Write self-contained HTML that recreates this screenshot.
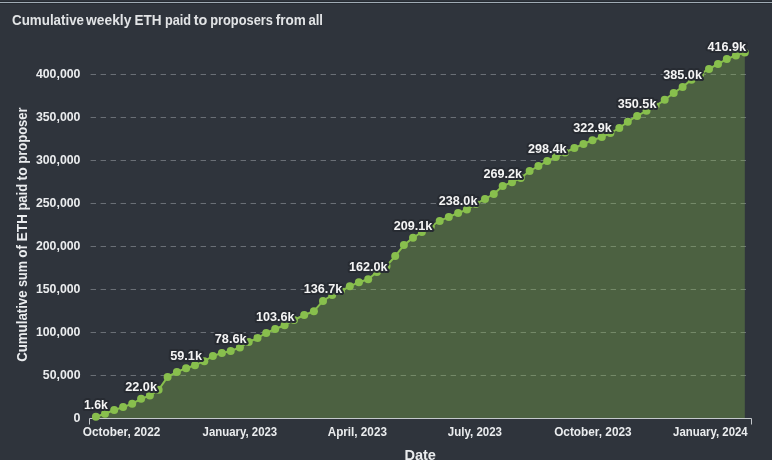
<!DOCTYPE html>
<html><head><meta charset="utf-8"><style>
html,body{margin:0;padding:0;}
body{width:772px;height:460px;overflow:hidden;background:#2f343c;position:relative;font-family:"Liberation Sans",sans-serif;}
.topl{position:absolute;left:0;top:1px;width:772px;height:3px;background:#262b32;}
.topl2{position:absolute;left:0;top:2px;width:772px;height:1px;background:#a0abb4;}
svg{position:absolute;left:0;top:0;will-change:transform;}
text{font-family:"Liberation Sans",sans-serif;font-weight:700;}
</style></head><body>
<div class="topl"></div><div class="topl2"></div>
<svg width="772" height="460" viewBox="0 0 772 460">
<g font-size="14" fill="#e2e4e6"><text x="12.10" y="25.1" textLength="71.90" lengthAdjust="spacingAndGlyphs">Cumulative</text><text x="86.10" y="25.1" textLength="45.30" lengthAdjust="spacingAndGlyphs">weekly</text><text x="134.50" y="25.1" textLength="27.10" lengthAdjust="spacingAndGlyphs">ETH</text><text x="164.90" y="25.1" textLength="26.10" lengthAdjust="spacingAndGlyphs">paid</text><text x="193.80" y="25.1" textLength="13.60" lengthAdjust="spacingAndGlyphs">to</text><text x="210.20" y="25.1" textLength="62.70" lengthAdjust="spacingAndGlyphs">proposers</text><text x="275.80" y="25.1" textLength="30.10" lengthAdjust="spacingAndGlyphs">from</text><text x="308.40" y="25.1" textLength="14.60" lengthAdjust="spacingAndGlyphs">all</text></g>
<g stroke="#6a6f76" stroke-width="1" stroke-dasharray="5.4 4.6" fill="none"><line x1="90.6" y1="375.5" x2="746" y2="375.5"/><line x1="90.6" y1="332.5" x2="746" y2="332.5"/><line x1="90.6" y1="289.5" x2="746" y2="289.5"/><line x1="90.6" y1="246.5" x2="746" y2="246.5"/><line x1="90.6" y1="203.5" x2="746" y2="203.5"/><line x1="90.6" y1="160.5" x2="746" y2="160.5"/><line x1="90.6" y1="117.5" x2="746" y2="117.5"/><line x1="90.6" y1="74.5" x2="746" y2="74.5"/></g>
<path d="M95.9,418.5 L95.9,416.7 L105.0,413.7 L114.2,410.0 L123.1,407.1 L132.2,403.7 L141.1,398.8 L149.9,395.6 L158.6,389.8 L167.6,376.9 L176.9,372.0 L186.1,368.2 L195.0,365.2 L204.3,361.2 L212.9,356.0 L221.9,352.9 L230.7,351.0 L239.9,347.4 L248.7,342.0 L257.5,337.9 L266.2,333.0 L275.2,329.0 L284.6,325.2 L294.0,320.0 L304.2,315.0 L313.9,311.2 L323.0,300.9 L332.2,295.0 L341.0,291.0 L349.8,286.3 L358.9,282.2 L368.2,279.2 L376.9,272.0 L386.5,266.0 L395.2,256.1 L403.9,245.1 L413.0,237.8 L421.9,232.0 L430.8,226.5 L439.7,220.9 L448.8,216.9 L458.1,213.0 L466.9,209.6 L475.8,204.0 L485.0,198.9 L493.8,194.0 L502.7,186.0 L512.0,182.2 L520.8,178.0 L529.6,171.0 L538.4,166.1 L547.2,161.0 L555.8,157.1 L565.0,152.5 L574.4,148.0 L583.5,144.0 L592.5,140.2 L601.8,137.0 L610.4,133.0 L619.3,128.0 L627.8,121.7 L637.1,115.9 L646.5,110.8 L655.6,106.0 L664.7,99.8 L673.7,93.0 L682.6,86.9 L691.5,79.8 L700.3,74.0 L709.0,68.9 L718.0,64.0 L726.8,59.0 L735.9,55.4 L744.8,52.5 L744.8,418.5 Z" fill="#88bf4d" fill-opacity="0.33" stroke="none"/>
<path d="M89.5,424.5 L89.5,418.5 L751.5,418.5 L751.5,424.5" stroke="#c4c8cc" stroke-width="1" fill="none"/>
<polyline points="95.9,416.7 105.0,413.7 114.2,410.0 123.1,407.1 132.2,403.7 141.1,398.8 149.9,395.6 158.6,389.8 167.6,376.9 176.9,372.0 186.1,368.2 195.0,365.2 204.3,361.2 212.9,356.0 221.9,352.9 230.7,351.0 239.9,347.4 248.7,342.0 257.5,337.9 266.2,333.0 275.2,329.0 284.6,325.2 294.0,320.0 304.2,315.0 313.9,311.2 323.0,300.9 332.2,295.0 341.0,291.0 349.8,286.3 358.9,282.2 368.2,279.2 376.9,272.0 386.5,266.0 395.2,256.1 403.9,245.1 413.0,237.8 421.9,232.0 430.8,226.5 439.7,220.9 448.8,216.9 458.1,213.0 466.9,209.6 475.8,204.0 485.0,198.9 493.8,194.0 502.7,186.0 512.0,182.2 520.8,178.0 529.6,171.0 538.4,166.1 547.2,161.0 555.8,157.1 565.0,152.5 574.4,148.0 583.5,144.0 592.5,140.2 601.8,137.0 610.4,133.0 619.3,128.0 627.8,121.7 637.1,115.9 646.5,110.8 655.6,106.0 664.7,99.8 673.7,93.0 682.6,86.9 691.5,79.8 700.3,74.0 709.0,68.9 718.0,64.0 726.8,59.0 735.9,55.4 744.8,52.5" fill="none" stroke="#88bf4d" stroke-width="2" stroke-linejoin="round"/>
<g fill="#88bf4d"><circle cx="95.9" cy="416.7" r="4"/><circle cx="105.0" cy="413.7" r="4"/><circle cx="114.2" cy="410.0" r="4"/><circle cx="123.1" cy="407.1" r="4"/><circle cx="132.2" cy="403.7" r="4"/><circle cx="141.1" cy="398.8" r="4"/><circle cx="149.9" cy="395.6" r="4"/><circle cx="158.6" cy="389.8" r="4"/><circle cx="167.6" cy="376.9" r="4"/><circle cx="176.9" cy="372.0" r="4"/><circle cx="186.1" cy="368.2" r="4"/><circle cx="195.0" cy="365.2" r="4"/><circle cx="204.3" cy="361.2" r="4"/><circle cx="212.9" cy="356.0" r="4"/><circle cx="221.9" cy="352.9" r="4"/><circle cx="230.7" cy="351.0" r="4"/><circle cx="239.9" cy="347.4" r="4"/><circle cx="248.7" cy="342.0" r="4"/><circle cx="257.5" cy="337.9" r="4"/><circle cx="266.2" cy="333.0" r="4"/><circle cx="275.2" cy="329.0" r="4"/><circle cx="284.6" cy="325.2" r="4"/><circle cx="294.0" cy="320.0" r="4"/><circle cx="304.2" cy="315.0" r="4"/><circle cx="313.9" cy="311.2" r="4"/><circle cx="323.0" cy="300.9" r="4"/><circle cx="332.2" cy="295.0" r="4"/><circle cx="341.0" cy="291.0" r="4"/><circle cx="349.8" cy="286.3" r="4"/><circle cx="358.9" cy="282.2" r="4"/><circle cx="368.2" cy="279.2" r="4"/><circle cx="376.9" cy="272.0" r="4"/><circle cx="386.5" cy="266.0" r="4"/><circle cx="395.2" cy="256.1" r="4"/><circle cx="403.9" cy="245.1" r="4"/><circle cx="413.0" cy="237.8" r="4"/><circle cx="421.9" cy="232.0" r="4"/><circle cx="430.8" cy="226.5" r="4"/><circle cx="439.7" cy="220.9" r="4"/><circle cx="448.8" cy="216.9" r="4"/><circle cx="458.1" cy="213.0" r="4"/><circle cx="466.9" cy="209.6" r="4"/><circle cx="475.8" cy="204.0" r="4"/><circle cx="485.0" cy="198.9" r="4"/><circle cx="493.8" cy="194.0" r="4"/><circle cx="502.7" cy="186.0" r="4"/><circle cx="512.0" cy="182.2" r="4"/><circle cx="520.8" cy="178.0" r="4"/><circle cx="529.6" cy="171.0" r="4"/><circle cx="538.4" cy="166.1" r="4"/><circle cx="547.2" cy="161.0" r="4"/><circle cx="555.8" cy="157.1" r="4"/><circle cx="565.0" cy="152.5" r="4"/><circle cx="574.4" cy="148.0" r="4"/><circle cx="583.5" cy="144.0" r="4"/><circle cx="592.5" cy="140.2" r="4"/><circle cx="601.8" cy="137.0" r="4"/><circle cx="610.4" cy="133.0" r="4"/><circle cx="619.3" cy="128.0" r="4"/><circle cx="627.8" cy="121.7" r="4"/><circle cx="637.1" cy="115.9" r="4"/><circle cx="646.5" cy="110.8" r="4"/><circle cx="655.6" cy="106.0" r="4"/><circle cx="664.7" cy="99.8" r="4"/><circle cx="673.7" cy="93.0" r="4"/><circle cx="682.6" cy="86.9" r="4"/><circle cx="691.5" cy="79.8" r="4"/><circle cx="700.3" cy="74.0" r="4"/><circle cx="709.0" cy="68.9" r="4"/><circle cx="718.0" cy="64.0" r="4"/><circle cx="726.8" cy="59.0" r="4"/><circle cx="735.9" cy="55.4" r="4"/><circle cx="744.8" cy="52.5" r="4"/></g>
<g font-size="12" fill="#f4f4f4" text-anchor="middle" stroke="#272b32" stroke-width="4" paint-order="stroke" stroke-linejoin="round"><text x="95.9" y="408.7" textLength="23.9" lengthAdjust="spacingAndGlyphs">1.6k</text><text x="141.1" y="390.8" textLength="31.8" lengthAdjust="spacingAndGlyphs">22.0k</text><text x="186.1" y="360.2" textLength="31.8" lengthAdjust="spacingAndGlyphs">59.1k</text><text x="230.7" y="343.0" textLength="31.8" lengthAdjust="spacingAndGlyphs">78.6k</text><text x="275.2" y="321.0" textLength="38.6" lengthAdjust="spacingAndGlyphs">103.6k</text><text x="323.0" y="292.9" textLength="38.6" lengthAdjust="spacingAndGlyphs">136.7k</text><text x="368.2" y="271.2" textLength="38.6" lengthAdjust="spacingAndGlyphs">162.0k</text><text x="413.0" y="229.8" textLength="38.6" lengthAdjust="spacingAndGlyphs">209.1k</text><text x="458.1" y="205.0" textLength="38.6" lengthAdjust="spacingAndGlyphs">238.0k</text><text x="502.7" y="178.0" textLength="38.6" lengthAdjust="spacingAndGlyphs">269.2k</text><text x="547.2" y="153.0" textLength="38.6" lengthAdjust="spacingAndGlyphs">298.4k</text><text x="592.5" y="132.2" textLength="38.6" lengthAdjust="spacingAndGlyphs">322.9k</text><text x="637.1" y="107.9" textLength="38.6" lengthAdjust="spacingAndGlyphs">350.5k</text><text x="682.6" y="78.9" textLength="38.6" lengthAdjust="spacingAndGlyphs">385.0k</text><text x="726.8" y="51.0" textLength="38.6" lengthAdjust="spacingAndGlyphs">416.9k</text></g>
<g font-size="12" fill="#eaecee" text-anchor="end"><text x="80.5" y="422.2" textLength="6.97" lengthAdjust="spacingAndGlyphs">0</text><text x="80.5" y="379.2" textLength="37.61" lengthAdjust="spacingAndGlyphs">50,000</text><text x="80.5" y="336.2" textLength="44.58" lengthAdjust="spacingAndGlyphs">100,000</text><text x="80.5" y="293.2" textLength="44.58" lengthAdjust="spacingAndGlyphs">150,000</text><text x="80.5" y="250.2" textLength="44.58" lengthAdjust="spacingAndGlyphs">200,000</text><text x="80.5" y="207.2" textLength="44.58" lengthAdjust="spacingAndGlyphs">250,000</text><text x="80.5" y="164.2" textLength="44.58" lengthAdjust="spacingAndGlyphs">300,000</text><text x="80.5" y="121.2" textLength="44.58" lengthAdjust="spacingAndGlyphs">350,000</text><text x="80.5" y="78.2" textLength="44.58" lengthAdjust="spacingAndGlyphs">400,000</text></g>
<g font-size="12" fill="#eaecee" text-anchor="middle"><text x="121.6" y="435.8" textLength="77.50" lengthAdjust="spacingAndGlyphs">October, 2022</text><text x="239.9" y="435.8" textLength="74.59" lengthAdjust="spacingAndGlyphs">January, 2023</text><text x="357.3" y="435.8" textLength="59.22" lengthAdjust="spacingAndGlyphs">April, 2023</text><text x="474.9" y="435.8" textLength="54.19" lengthAdjust="spacingAndGlyphs">July, 2023</text><text x="592.9" y="435.8" textLength="77.50" lengthAdjust="spacingAndGlyphs">October, 2023</text><text x="710.4" y="435.8" textLength="74.59" lengthAdjust="spacingAndGlyphs">January, 2024</text></g>
<text x="420.2" y="460" font-size="14" fill="#eaecee" text-anchor="middle" textLength="31.6" lengthAdjust="spacingAndGlyphs">Date</text>
<g transform="translate(26.6,361.80) rotate(-90)" font-size="14" fill="#eaecee"><text x="0.00" y="0" textLength="71.37" lengthAdjust="spacingAndGlyphs">Cumulative</text><text x="74.78" y="0" textLength="25.98" lengthAdjust="spacingAndGlyphs">sum</text><text x="104.18" y="0" textLength="12.74" lengthAdjust="spacingAndGlyphs">of</text><text x="120.31" y="0" textLength="27.47" lengthAdjust="spacingAndGlyphs">ETH</text><text x="151.19" y="0" textLength="26.78" lengthAdjust="spacingAndGlyphs">paid</text><text x="181.38" y="0" textLength="13.30" lengthAdjust="spacingAndGlyphs">to</text><text x="198.10" y="0" textLength="56.30" lengthAdjust="spacingAndGlyphs">proposer</text></g>
</svg>
</body></html>
